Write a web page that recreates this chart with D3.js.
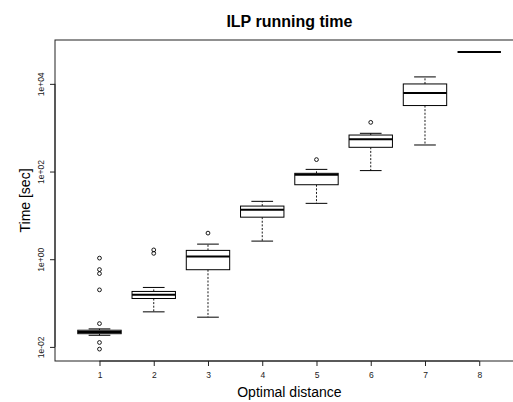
<!DOCTYPE html>
<html>
<head>
<meta charset="utf-8">
<script src="https://cdn.jsdelivr.net/npm/d3@7"></script>
<style>
  html, body { margin: 0; padding: 0; background: #fff; }
  svg { display: block; font-family: "Liberation Sans", Arial, Helvetica, sans-serif; }
</style>
</head>
<body>
<svg id="chart" width="513" height="402"></svg>
<script>
// ---- Data ----
const categories   = [1, 2, 3, 4, 5, 6, 7, 8];
const lowerWhisker = [0.0184, 0.063, 0.0476, 2.59, 18.8, 105, 403, 53600];
const q1           = [0.0200, 0.127, 0.576, 9.1, 50, 357, 3200, 53600];
const median       = [0.0220, 0.155, 1.16, 13.5, 85, 543, 6200, 53600];
const q3           = [0.0240, 0.184, 1.59, 16.3, 91, 680, 9950, 53600];
const upperWhisker = [0.0257, 0.227, 2.21, 20.9, 112, 745, 14400, 53600];
const outliers     = [
  [1.06, 0.58, 0.47, 0.20, 0.034, 0.0126, 0.0089],
  [1.63, 1.36],
  [3.94],
  [],
  [187],
  [1323],
  [],
  []
];
const yTickValues = [1e-2, 1, 1e2, 1e4];
const yTickLabels = ["1e-02", "1e+00", "1e+02", "1e+04"];
const title = "ILP running time";
const xTitle = "Optimal distance";
const yTitle = "Time [sec]";

// ---- Layout ----
const svg = d3.select("#chart");
const plotLeft = 55, plotTop = 40, plotBottom = 361;
const pxPerUnit = 54.25;
const n = categories.length;
const xMin = 0.5 - 0.04 * n, xMax = n + 0.5 + 0.04 * n;
const plotRight = plotLeft + (xMax - xMin) * pxPerUnit;

const x = d3.scaleLinear().domain([xMin, xMax]).range([plotLeft, plotRight]);

const allVals = [].concat(lowerWhisker, upperWhisker, ...outliers);
const lmin = Math.log10(d3.min(allVals)), lmax = Math.log10(d3.max(allVals));
const ext = 0.04 * (lmax - lmin);
const y = d3.scaleLog()
  .domain([Math.pow(10, lmin - ext), Math.pow(10, lmax + ext)])
  .range([plotBottom, plotTop]);

const boxW = 0.8 * pxPerUnit;
const capW = 0.4 * pxPerUnit;
const ink = "#000";

// ---- Boxes ----
const g = svg.append("g");
categories.forEach((c, i) => {
  const cx = x(c);
  const gg = g.append("g");
  gg.append("line").attr("x1", cx).attr("x2", cx)
    .attr("y1", y(q3[i])).attr("y2", y(upperWhisker[i]))
    .attr("stroke", ink).attr("stroke-width", 0.9).attr("stroke-dasharray", "2,1.6");
  gg.append("line").attr("x1", cx).attr("x2", cx)
    .attr("y1", y(q1[i])).attr("y2", y(lowerWhisker[i]))
    .attr("stroke", ink).attr("stroke-width", 0.9).attr("stroke-dasharray", "2,1.6");
  [upperWhisker[i], lowerWhisker[i]].forEach(v => {
    gg.append("line").attr("x1", cx - capW / 2).attr("x2", cx + capW / 2)
      .attr("y1", y(v)).attr("y2", y(v))
      .attr("stroke", ink).attr("stroke-width", 1);
  });
  gg.append("rect")
    .attr("x", cx - boxW / 2).attr("width", boxW)
    .attr("y", y(q3[i])).attr("height", Math.max(0, y(q1[i]) - y(q3[i])))
    .attr("fill", "#fff").attr("stroke", ink).attr("stroke-width", 1);
  gg.append("line").attr("x1", cx - boxW / 2).attr("x2", cx + boxW / 2)
    .attr("y1", y(median[i])).attr("y2", y(median[i]))
    .attr("stroke", ink).attr("stroke-width", 2);
  gg.selectAll("circle").data(outliers[i]).join("circle")
    .attr("cx", cx).attr("cy", d => y(d)).attr("r", 1.9)
    .attr("fill", "none").attr("stroke", ink).attr("stroke-width", 0.9);
});

// ---- Frame ----
svg.append("rect")
  .attr("x", plotLeft).attr("y", plotTop)
  .attr("width", plotRight - plotLeft).attr("height", plotBottom - plotTop)
  .attr("fill", "none").attr("stroke", "#222").attr("stroke-width", 1);

// ---- Axes ----
const xAxis = d3.axisBottom(x).tickValues(categories).tickSize(5).tickPadding(6)
  .tickFormat(d3.format("d"));
const xg = svg.append("g").attr("transform", `translate(0,${plotBottom})`).call(xAxis);
xg.select(".domain").attr("stroke", "#222").attr("d", `M${x(1)},0H${x(8)}`);
xg.selectAll(".tick line").attr("stroke", "#222");
xg.selectAll(".tick text").attr("font-size", 8.5).attr("fill", "#222")
  .attr("font-family", "Liberation Sans, Arial, sans-serif");

const yAxis = d3.axisLeft(y).tickValues(yTickValues).tickSize(5)
  .tickFormat((d, i) => yTickLabels[i]);
const yg = svg.append("g").attr("transform", `translate(${plotLeft},0)`).call(yAxis);
yg.select(".domain").attr("stroke", "#222")
  .attr("d", `M0,${y(yTickValues[0])}V${y(yTickValues[yTickValues.length - 1])}`);
yg.selectAll(".tick line").attr("stroke", "#222");
yg.selectAll(".tick text")
  .attr("font-size", 8.5).attr("fill", "#222")
  .attr("font-family", "Liberation Sans, Arial, sans-serif")
  .attr("text-anchor", "middle").attr("x", 0).attr("dy", 0)
  .attr("transform", "translate(-11,0) rotate(-90)");

// ---- Titles ----
const plotCx = (plotLeft + plotRight) / 2;
svg.append("text").attr("x", plotCx).attr("y", 27)
  .attr("text-anchor", "middle").attr("font-weight", "bold").attr("font-size", 16)
  .attr("fill", "#000").text(title);
svg.append("text").attr("x", plotCx).attr("y", 397)
  .attr("text-anchor", "middle").attr("font-size", 14).attr("fill", "#000").text(xTitle);
svg.append("text")
  .attr("transform", `translate(30,${(plotTop + plotBottom) / 2}) rotate(-90)`)
  .attr("text-anchor", "middle").attr("font-size", 14).attr("fill", "#000").text(yTitle);
</script>
</body>
</html>
